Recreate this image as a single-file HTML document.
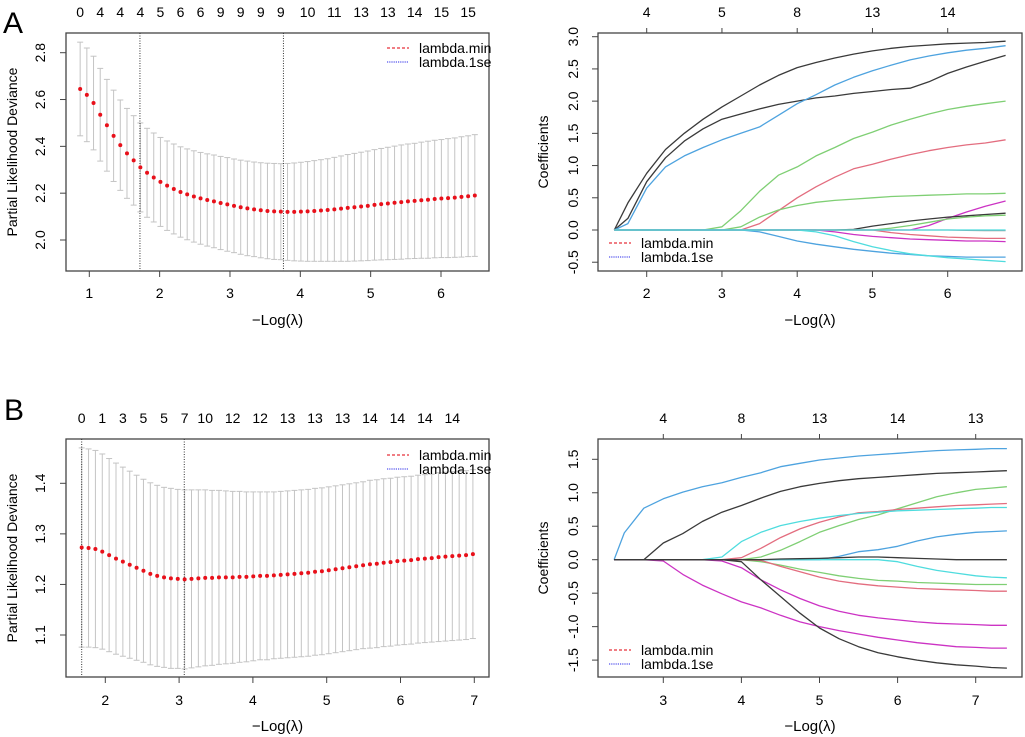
<!DOCTYPE html>
<html><head><meta charset="utf-8"><style>
html,body{margin:0;padding:0;background:#fff;}
svg{display:block;font-family:"Liberation Sans",Arial,sans-serif;}
</style></head><body>
<svg id="fig" width="1025" height="737" viewBox="0 0 1025 737" xmlns="http://www.w3.org/2000/svg">
<text x="3" y="33" font-size="30">A</text>
<text x="4" y="420" font-size="30">B</text>
</svg>
<script>
// ---------- Panel A left (CV curve) ----------
const aMean = [2.645,2.62,2.585,2.535,2.49,2.445,2.405,2.37,2.34,2.31,
2.287,2.267,2.248,2.232,2.218,2.205,2.195,2.186,2.178,2.171,
2.165,2.158,2.152,2.146,2.14,2.135,2.131,2.127,2.124,2.122,
2.121,2.120,2.120,2.121,2.122,2.124,2.126,2.128,2.131,2.134,
2.137,2.140,2.143,2.146,2.150,2.153,2.156,2.159,2.162,2.165,
2.167,2.170,2.172,2.175,2.177,2.179,2.181,2.184,2.187,2.19];
const aHW = [0.2,0.2,0.2,0.198,0.196,0.195,0.193,0.192,0.191,0.19,
0.19,0.19,0.19,0.191,0.192,0.193,0.194,0.195,0.196,0.197,0.198,
0.199,0.2,0.2,0.201,0.202,0.202,0.203,0.204,0.205,0.205,
0.207,0.209,0.211,0.213,0.215,0.217,0.219,0.222,0.225,0.228,
0.23,0.232,0.234,0.236,0.238,0.24,0.242,0.244,0.245,0.246,
0.248,0.25,0.251,0.252,0.254,0.255,0.257,0.258,0.26];
const aLogStart = 0.87, aLogStep = 0.0951;
const aVlines = [1.72, 3.76];
const aTopIdx = [0,3,6,9,12,15,18,21,24,27,30,34,38,42,46,50,54,58];
const aTopLab = [0,4,4,4,5,6,6,9,9,9,9,10,11,13,13,14,15,15];
const aXTicks = [1,2,3,4,5,6];
const aYTicks = [2.0,2.2,2.4,2.6,2.8];
// ---------- Panel B left ----------
const bMean = [1.273,1.272,1.270,1.265,1.258,1.251,1.245,1.239,1.233,1.227,
1.221,1.217,1.214,1.212,1.211,1.210,1.211,1.212,1.213,1.213,
1.214,1.214,1.214,1.215,1.215,1.216,1.217,1.217,1.218,1.219,
1.220,1.221,1.222,1.223,1.225,1.226,1.228,1.230,1.232,1.234,
1.236,1.238,1.240,1.241,1.243,1.244,1.246,1.247,1.248,1.250,
1.251,1.252,1.254,1.255,1.256,1.257,1.258,1.260];
const bHW = [0.197,0.196,0.195,0.193,0.191,0.189,0.187,0.185,0.183,0.181,
0.18,0.179,0.178,0.178,0.177,0.177,0.176,0.175,0.174,0.173,
0.172,0.171,0.17,0.169,0.168,0.167,0.166,0.166,0.165,0.165,
0.165,0.165,0.165,0.165,0.165,0.165,0.165,0.165,0.165,0.165,
0.165,0.165,0.166,0.166,0.166,0.166,0.166,0.166,0.166,0.166,
0.166,0.166,0.167,0.167,0.167,0.167,0.167,0.167];
const bLogStart = 1.68, bLogStep = 0.093;
const bVlines = [1.68, 3.07];
const bTopIdx = [0,3,6,9,12,15,18,22,26,30,34,38,42,46,50,54];
const bTopLab = [0,1,3,5,5,7,10,12,12,13,13,13,14,14,14,14];
const bXTicks = [2,3,4,5,6,7];
const bYTicks = [1.1,1.2,1.3,1.4];
// ---------- Panel A right (coefficient paths) ----------
const cAx = [1.57,1.75,2,2.25,2.5,2.75,3,3.25,3.5,3.75,4,4.25,4.5,4.75,5,5.25,5.5,5.75,6,6.25,6.5,6.77];
const cAblack1 = [0,0.42,0.88,1.25,1.5,1.72,1.91,2.08,2.25,2.4,2.52,2.6,2.67,2.73,2.78,2.82,2.85,2.87,2.89,2.9,2.91,2.93];
const cAblack2 = [0,0.18,0.75,1.12,1.38,1.57,1.72,1.8,1.88,1.95,2.0,2.05,2.08,2.12,2.15,2.18,2.2,2.3,2.43,2.53,2.62,2.71];
const cAblue1 = [0,0.1,0.65,0.98,1.15,1.28,1.4,1.5,1.6,1.78,1.96,2.1,2.25,2.37,2.47,2.56,2.64,2.7,2.75,2.79,2.82,2.86];
const cAgreen1 = [0,0,0,0,0,0,0.05,0.3,0.6,0.85,0.98,1.15,1.28,1.42,1.52,1.63,1.72,1.8,1.87,1.92,1.96,2.0];
const cApink1 = [0,0,0,0,0,0,0,0,0.1,0.3,0.5,0.67,0.82,0.95,1.02,1.1,1.17,1.23,1.28,1.32,1.35,1.4];
const cAgreen2 = [0,0,0,0,0,0,0,0.05,0.2,0.31,0.38,0.43,0.46,0.48,0.5,0.52,0.53,0.54,0.55,0.56,0.56,0.57];
const cAmag1 = [0,0,0,0,0,0,0,0,0,0,0,0,0,0,0,0,0,0.07,0.18,0.28,0.37,0.45];
const cAblack3 = [0,0,0,0,0,0,0,0,0,0,0,0,0,0.01,0.06,0.1,0.14,0.17,0.2,0.22,0.24,0.26];
const cAgreen3 = [0,0,0,0,0,0,0,0,0,0,0,0,0,0,0,0.03,0.07,0.12,0.17,0.2,0.22,0.23];
const cAcyan1 = [0,0,0,0,0,0,0,0,0,0,0,0,0,0,0,0,0,0,0,0,0,0];
const cAgray = [0,0,0,0,0,0,0,0,0,0,0,0,0,0,0,0,0,0,0,-0.005,-0.01,-0.01];
const cApink2 = [0,0,0,0,0,0,0,0,0,0,0,0,0,0,0,-0.04,-0.07,-0.09,-0.11,-0.12,-0.13,-0.13];
const cAmag2 = [0,0,0,0,0,0,0,0,0,0,0,0,-0.03,-0.07,-0.1,-0.12,-0.14,-0.15,-0.16,-0.17,-0.17,-0.18];
const cAblue2 = [0,0,0,0,0,0,0,0,-0.03,-0.1,-0.17,-0.22,-0.26,-0.3,-0.33,-0.36,-0.38,-0.4,-0.41,-0.42,-0.42,-0.42];
const cAcyan2 = [0,0,0,0,0,0,0,0,0,0,0,-0.03,-0.09,-0.18,-0.26,-0.32,-0.37,-0.4,-0.43,-0.45,-0.47,-0.49];
const cATopAt = [2,3,4,5,6];
const cATopLab = [4,5,8,13,14];
const cAXTicks = [2,3,4,5,6];
const cAYTicks = [-0.5,0,0.5,1,1.5,2,2.5,3];
// ---------- Panel B right ----------
const cBx = [2.37,2.5,2.75,3,3.25,3.5,3.75,4,4.25,4.5,4.75,5,5.25,5.5,5.75,6,6.25,6.5,6.75,7,7.2,7.4];
const cBblue1 = [0,0.4,0.77,0.91,1.01,1.09,1.15,1.23,1.3,1.39,1.44,1.49,1.52,1.55,1.57,1.59,1.61,1.63,1.64,1.65,1.66,1.66];
const cBblack1 = [0,0,0,0.25,0.39,0.57,0.71,0.81,0.92,1.02,1.09,1.14,1.18,1.21,1.23,1.25,1.27,1.29,1.3,1.31,1.32,1.33];
const cBgreen1 = [0,0,0,0,0,0,0,0,0.04,0.14,0.27,0.41,0.51,0.6,0.67,0.76,0.85,0.94,1.0,1.05,1.07,1.09];
const cBpink1 = [0,0,0,0,0,0,0,0.03,0.17,0.33,0.46,0.56,0.64,0.7,0.72,0.75,0.77,0.79,0.81,0.82,0.83,0.84];
const cBcyan1 = [0,0,0,0,0,0,0.04,0.27,0.41,0.51,0.57,0.62,0.66,0.69,0.71,0.73,0.74,0.75,0.76,0.77,0.78,0.78];
const cBblue2 = [0,0,0,0,0,0,0,0,0,0,0,0,0.05,0.12,0.15,0.2,0.28,0.34,0.38,0.41,0.42,0.43];
const cBblack2 = [0,0,0,0,0,0,0,0,0,0.01,0.015,0.02,0.03,0.04,0.04,0.03,0.02,0.01,0,0,0,0];
const cBcyan2 = [0,0,0,0,0,0,0,0,0,0,0,0,0,0,0,-0.03,-0.1,-0.16,-0.2,-0.24,-0.26,-0.27];
const cBgreen2 = [0,0,0,0,0,0,0,0,-0.03,-0.08,-0.14,-0.19,-0.24,-0.28,-0.31,-0.32,-0.34,-0.35,-0.36,-0.37,-0.37,-0.37];
const cBpink2 = [0,0,0,0,0,0,0,0,-0.01,-0.1,-0.18,-0.26,-0.32,-0.36,-0.39,-0.41,-0.43,-0.44,-0.45,-0.46,-0.47,-0.47];
const cBmag1 = [0,0,0,0,0,0,-0.02,-0.12,-0.3,-0.45,-0.58,-0.69,-0.77,-0.83,-0.87,-0.9,-0.93,-0.95,-0.96,-0.97,-0.98,-0.98];
const cBmag2 = [0,0,0,-0.02,-0.22,-0.38,-0.51,-0.63,-0.72,-0.83,-0.93,-1.0,-1.06,-1.11,-1.16,-1.2,-1.24,-1.27,-1.3,-1.31,-1.32,-1.32];
const cBblack3 = [0,0,0,0,0,0,0,-0.03,-0.3,-0.55,-0.8,-1.02,-1.18,-1.3,-1.39,-1.45,-1.5,-1.54,-1.57,-1.59,-1.61,-1.62];
const cBTopAt = [3,4,5,6,7];
const cBTopLab = [4,8,13,14,13];
const cBXTicks = [3,4,5,6,7];
const cBYTicks = [-1.5,-1,-0.5,0,0.5,1,1.5];

const C = {black:'#3a3a3a', red:'#e36d7f', green:'#7fcf74', blue:'#4ea3df', cyan:'#4fdcde', mag:'#cc33c4', gray:'#9a9a9a'};
const svg = document.getElementById('fig');
const NS = 'http://www.w3.org/2000/svg';
function el(tag, attrs, parent){const e=document.createElementNS(NS,tag);for(const k in attrs)e.setAttribute(k,attrs[k]);(parent||svg).appendChild(e);return e;}
function lin(d0,p0,d1,p1){return v=>p0+(v-d0)*(p1-p0)/(d1-d0);}
function txt(x,y,s,size,anchor,rot,parent){const t=el('text',{x:x,y:y,'font-size':size,'text-anchor':anchor||'middle',fill:'#000'},parent);if(rot)t.setAttribute('transform','rotate(-90 '+x+' '+y+')');t.textContent=s;return t;}

function frame(g,box,xs,ys,xt,yt,ylab,xlabY,ylabX,tickLabX,xlabelY){
  const r=el('rect',{x:box.l,y:box.t,width:box.r-box.l,height:box.b-box.t,fill:'none',stroke:'#444','stroke-width':1.3},g);
  
  
  const xa=el('g',{},g);
  
  
  xt.forEach(v=>{const x=xs(v);el('line',{x1:x,x2:x,y1:box.b,y2:box.b+6,stroke:'#444'},xa);const t=txt(x,xlabY,String(v),14,'middle',false,xa);});
  const ya=el('g',{},g);
  
  
  yt.forEach(v=>{const y=ys(v);el('line',{x1:box.l-6,x2:box.l,y1:y,y2:y,stroke:'#444'},ya);const t=txt(tickLabX,y,v.toFixed(1),14,'middle',true,ya);});
  const yl=txt(ylabX,(box.t+box.b)/2,ylab,14,'middle',true,g);
  
  
  const xl=txt((box.l+box.r)/2,xlabelY,'\u2212Log(\u03bb)',15,'middle',false,g);
  
  
}
function legend(g,x,y){
  const lg=el('g',{},g);
  
  
  el('line',{x1:x,x2:x+22,y1:y,y2:y,stroke:'#e8303a','stroke-width':1.2,'stroke-dasharray':'3,2'},lg);
  const a=txt(x+32,y+5,'lambda.min',14,'start',false,lg);
  
  
  el('line',{x1:x,x2:x+22,y1:y+14,y2:y+14,stroke:'#7070f0','stroke-width':1.4,'stroke-dasharray':'1.2,1'},lg);
  const b=txt(x+32,y+19,'lambda.1se',14,'start',false,lg);
  
  
}
function cvPanel(name,box,xs,ys,mean,hw,start,step,vl,topIdx,topLab,xt,yt,topY,xlabY,xtitleY,legY){
  const g=el('g',{});
  
  
  frame(g,box,xs,ys,xt,yt,'Partial Likelihood Deviance',xlabY,17,45,xtitleY);
  const bars=el('g',{},g);
  
  
  mean.forEach((m,i)=>{const x=xs(start+i*step);const y1=ys(m+hw[i]),y2=ys(m-hw[i]);
    el('line',{x1:x,x2:x,y1:y1,y2:y2,stroke:'#c4c4c4','stroke-width':1},bars);
    el('line',{x1:x-3,x2:x+3,y1:y1,y2:y1,stroke:'#c4c4c4','stroke-width':1},bars);
    el('line',{x1:x-3,x2:x+3,y1:y2,y2:y2,stroke:'#c4c4c4','stroke-width':1},bars);});
  vl.forEach(v=>{const l=el('line',{x1:xs(v),x2:xs(v),y1:box.t,y2:box.b,stroke:'#333','stroke-width':1,'stroke-dasharray':'1,1.5'},g);
    
    });
  const pts=el('g',{},g);
  
  
  mean.forEach((m,i)=>{el('circle',{cx:xs(start+i*step),cy:ys(m),r:2,fill:'#e8101a'},pts);});
  topIdx.forEach((k,j)=>{const t=txt(xs(start+k*step),topY,String(topLab[j]),14,'middle',false,g);
    
    });
  legend(g,box.r-102,legY);
}
function coefPanel(name,box,xs,ys,grid,series,topAt,topLab,xt,yt,topY,xlabY,xtitleY,legY){
  const g=el('g',{});
  
  
  frame(g,box,xs,ys,xt,yt,'Coefficients',xlabY,box.l-50,box.l-20,xtitleY);
  series.forEach(s=>{const p=el('polyline',{points:s.v.map((v,i)=>xs(grid[i]).toFixed(1)+','+ys(v).toFixed(1)).join(' '),fill:'none',stroke:s.c,'stroke-width':1.3,'stroke-linejoin':'round'},g);
    
    });
  topAt.forEach((v,j)=>{el('line',{x1:xs(v),x2:xs(v),y1:box.t-5,y2:box.t,stroke:'#444'},g);
    const t=txt(xs(v),topY,String(topLab[j]),14,'middle',false,g);
    
    });
  legend(g,box.l+11,legY);
}
// A left
cvPanel('cv-panel-a',{l:66,r:489,t:33,b:271},lin(1,89.3,6,441),lin(2.0,240,2.8,52.7),aMean,aHW,aLogStart,aLogStep,aVlines,aTopIdx,aTopLab,aXTicks,aYTicks,17,298,325,48);
// B left
cvPanel('cv-panel-b',{l:66,r:489,t:439,b:677},lin(2,105.3,7,474.3),lin(1.1,635,1.4,483.3),bMean,bHW,bLogStart,bLogStep,bVlines,bTopIdx,bTopLab,bXTicks,bYTicks,423,705,731,455);
// A right
coefPanel('coef-panel-a',{l:598,r:1022,t:33,b:271},lin(2,646.7,6,947.7),lin(0,230,3,36.7),cAx,[
 {n:'black1',c:C.black,v:cAblack1},{n:'black2',c:C.black,v:cAblack2},{n:'blue1',c:C.blue,v:cAblue1},
 {n:'green1',c:C.green,v:cAgreen1},{n:'pink1',c:C.red,v:cApink1},{n:'green2',c:C.green,v:cAgreen2},
 {n:'magenta1',c:C.mag,v:cAmag1},{n:'black3',c:C.black,v:cAblack3},{n:'green3',c:C.green,v:cAgreen3},
 {n:'pink2',c:C.red,v:cApink2},{n:'magenta2',c:C.mag,v:cAmag2},{n:'blue2',c:C.blue,v:cAblue2},
 {n:'cyan2',c:C.cyan,v:cAcyan2},{n:'gray',c:C.gray,v:cAgray},{n:'cyan1',c:C.cyan,v:cAcyan1}],
 cATopAt,cATopLab,cAXTicks,cAYTicks,17,298,325,243);
// B right
coefPanel('coef-panel-b',{l:598,r:1022,t:439,b:677},lin(3,663.3,7,975.7),lin(0,559.7,1.5,459.3),cBx,[
 {n:'blue1',c:C.blue,v:cBblue1},{n:'black1',c:C.black,v:cBblack1},{n:'green1',c:C.green,v:cBgreen1},
 {n:'pink1',c:C.red,v:cBpink1},{n:'cyan1',c:C.cyan,v:cBcyan1},{n:'blue2',c:C.blue,v:cBblue2},
 {n:'cyan2',c:C.cyan,v:cBcyan2},{n:'green2',c:C.green,v:cBgreen2},{n:'pink2',c:C.red,v:cBpink2},
 {n:'magenta1',c:C.mag,v:cBmag1},{n:'magenta2',c:C.mag,v:cBmag2},{n:'black3',c:C.black,v:cBblack3},
 {n:'black2',c:C.black,v:cBblack2}],
 cBTopAt,cBTopLab,cBXTicks,cBYTicks,423,705,731,650);
</script>
</body></html>
